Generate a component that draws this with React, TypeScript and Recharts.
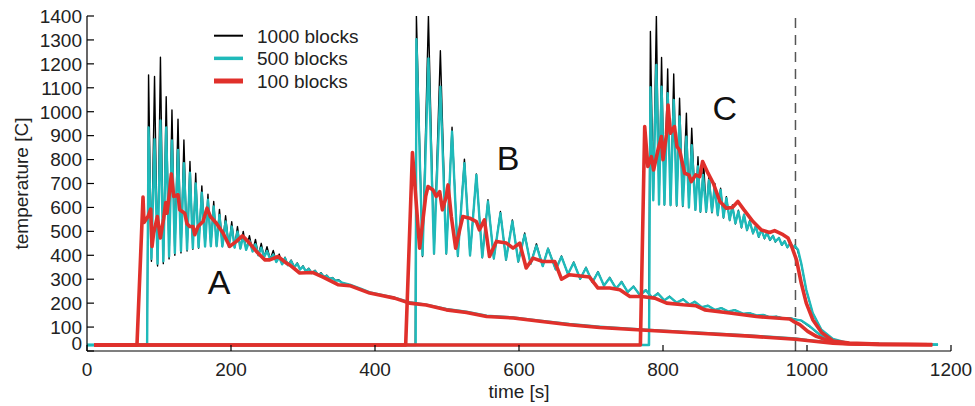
import { LineChart, Line, XAxis, YAxis, ReferenceLine, ReferenceDot, Legend } from 'recharts'

type Pt = [number, number]

const BLACK = '#000000'
const TEAL = '#1fbaba'
const RED = '#e0302b'
const TEXT = '#222222'
const FONT = '"Liberation Sans", Arial, sans-serif'

const xTicks = [0, 200, 400, 600, 800, 1000, 1200]
const yTicks = [0, 100, 200, 300, 400, 500, 600, 700, 800, 900, 1000, 1100, 1200, 1300, 1400]

// time [s], temperature [C] -- location A
const a1000: Pt[] = [
  [0, 25], [83.5, 25], [85.5, 1154], [89.5, 375], [93.8, 1147], [98, 355], [102, 1228], [106, 365],
  [110, 1063], [114, 385], [118, 1007], [122, 400], [126.4, 969], [130.5, 410], [134.6, 882], [139, 418],
  [143, 792], [147, 425], [151, 743], [155, 430], [159.5, 690], [164, 437], [168, 655], [172, 438],
  [176, 625], [180, 438], [184, 592], [188, 437], [192.5, 565], [197, 435], [201, 540], [205, 432],
  [209, 520], [213, 428], [217, 500], [221, 423], [225.6, 482], [230, 416], [234, 466], [238, 400],
  [242, 450], [246, 392], [250, 436], [254.5, 383], [258.7, 420], [263, 372], [267, 405], [271, 362],
  [275, 392], [279, 358], [283.5, 380], [288, 350], [292, 368], [296, 341], [300, 356], [304, 333],
  [308, 346], [312, 326], [316.8, 337], [321, 318], [325, 327], [329, 310], [333, 317], [337, 302],
  [341, 307], [345, 294], [349.5, 298], [354, 286], [365, 276], [380, 260], [393, 244], [411, 232],
  [427, 222], [448, 203], [471, 193], [499, 175], [527, 163], [555, 147], [592, 139], [629, 126],
  [670, 112], [712, 101], [770, 89], [850, 76], [920, 64], [984, 51], [1000, 45], [1013, 41],
  [1036, 34], [1059, 29], [1100, 27], [1180, 26],
]

const a500: Pt[] = [
  [0, 25], [83.5, 25], [85.5, 934], [89.5, 385], [93.8, 885], [98, 365], [102, 963], [106, 375],
  [110, 934], [114, 395], [118, 880], [122, 410], [126.4, 840], [130.5, 418], [134.6, 785], [139, 424],
  [143, 745], [147, 430], [151, 700], [155, 434], [159.5, 662], [164, 437], [168, 632], [172, 438],
  [176, 604], [180, 438], [184, 569], [188, 437], [192.5, 541], [197, 435], [201, 520], [205, 432],
  [209, 499], [213, 428], [217, 480], [221, 423], [225.6, 460], [230, 416], [234, 446], [238, 400],
  [242, 432], [246, 392], [250, 418], [254.5, 383], [258.7, 403], [263, 372], [267, 392], [271, 362],
  [275, 388], [279, 358], [283.5, 376], [288, 350], [292, 365], [296, 341], [300, 353], [304, 333],
  [308, 343], [312, 326], [316.8, 334], [321, 318], [325, 324], [329, 310], [333, 314], [337, 302],
  [341, 304], [345, 294], [349.5, 295], [354, 286], [365, 277], [380, 261], [393, 245], [411, 233],
  [427, 223], [448, 204], [471, 194], [499, 176], [527, 164], [555, 148], [592, 140], [629, 127],
  [670, 113], [712, 102], [770, 90], [850, 77], [920, 65], [984, 52], [1000, 46], [1013, 42],
  [1036, 35], [1059, 30], [1100, 27], [1182, 26],
]

const a100: Pt[] = [
  [10, 25], [69.4, 25], [77.8, 643], [79.2, 537], [84.7, 562], [88.5, 593], [90.3, 437], [92.6, 493],
  [97.7, 562], [101.9, 472], [106.5, 555], [109.3, 620], [111.1, 576], [113.9, 646], [117.2, 740],
  [120.4, 646], [126.4, 653], [128.8, 590], [135.7, 576], [138.9, 532], [142.6, 520], [147.2, 520],
  [149.6, 486], [154.2, 520], [161.1, 541], [166.7, 597], [171.4, 562], [179.7, 534], [188.9, 493],
  [198.2, 437], [207.5, 458], [215.8, 481], [223.6, 458], [235.3, 416], [246.8, 381], [253.8, 381],
  [265.3, 395], [276.9, 367], [281.5, 360], [295.4, 326], [313.9, 328], [327.8, 309], [348.6, 277],
  [364.9, 273], [392.6, 242], [411, 231], [427, 221], [448, 200], [471, 192], [499, 172], [527, 161],
  [555, 144], [592, 138], [629, 124], [670, 110], [712, 98], [770, 88], [850, 74], [920, 62],
  [984, 49], [1013, 40], [1036, 33], [1059, 29], [1100, 27], [1174, 26],
]

// location B
const b1000: Pt[] = [
  [0, 25], [456, 25], [457.5, 1400], [466, 395], [474.2, 1400], [482, 405], [490.8, 1255], [499, 405],
  [507, 935], [515, 395], [524.2, 802], [532, 398], [540.8, 740], [549, 390], [556.9, 632], [565, 385],
  [574.2, 583], [582, 380], [590.8, 548], [599, 372], [607.9, 493], [616, 362], [624.2, 448], [633, 354],
  [640.3, 430], [651, 340], [659, 397], [668, 320], [676, 372], [685, 300], [693, 350], [702, 286],
  [709.7, 332], [718, 272], [726, 308], [735, 260], [742.5, 291], [751, 245], [759, 271], [768, 232],
  [776, 256], [785, 222], [793, 242], [802, 211], [809, 229], [819, 201], [828, 217], [837, 193],
  [844, 207], [854, 182], [862.5, 190], [872, 171], [881, 180], [891, 164], [899.6, 172], [911, 155],
  [920, 159], [930, 148], [939, 152], [948, 141], [957.5, 144], [967, 136], [976, 138], [984, 133],
  [992, 127], [1004, 101], [1018, 66], [1036, 41], [1059, 30], [1100, 27], [1180, 26],
]

const b500: Pt[] = [
  [0, 25], [456.5, 25], [457.5, 1303], [466, 400], [474.2, 1223], [482, 408], [490.8, 1105], [499, 408],
  [507, 917], [515, 398], [524.2, 785], [532, 400], [540.8, 736], [549, 392], [556.9, 625], [565, 387],
  [574.2, 576], [582, 382], [590.8, 541], [599, 374], [607.9, 486], [616, 364], [624.2, 440], [633, 355],
  [640.3, 427], [651, 341], [659, 394], [668, 322], [676, 369], [685, 302], [693, 347], [702, 288],
  [709.7, 329], [718, 274], [726, 305], [735, 261], [742.5, 288], [751, 247], [759, 269], [768, 234],
  [776, 254], [785, 223], [793, 240], [802, 212], [809, 227], [819, 202], [828, 216], [837, 194],
  [844, 206], [854, 183], [862.5, 189], [872, 172], [881, 179], [891, 165], [899.6, 171], [911, 156],
  [920, 158], [930, 149], [939, 151], [948, 142], [957.5, 143], [967, 136], [976, 137], [984, 131],
  [992, 128], [1004, 103], [1018, 68], [1036, 42], [1059, 31], [1100, 27], [1182, 26],
]

const b100: Pt[] = [
  [10, 25], [442.6, 25], [452, 829], [462, 430], [470.4, 646], [473.6, 687], [480.6, 673], [485, 646],
  [489.9, 666], [493.6, 590], [499, 646], [501.4, 694], [506, 562], [512, 430], [517.6, 506], [522, 562],
  [531.5, 555], [540.8, 541], [545, 506], [552, 548], [559, 395], [568.6, 458], [582.5, 451], [591.7, 430],
  [601, 451], [610, 347], [619.4, 388], [633, 374], [649.6, 374], [659, 300], [670, 319], [698, 309],
  [709.7, 263], [726, 263], [740, 256], [754, 228], [770, 228], [788.5, 221], [805, 200], [828, 193],
  [846, 189], [858, 172], [892.6, 159], [929.7, 144], [976, 134], [981, 124], [990, 110], [1001, 82],
  [1013, 61], [1036, 36], [1059, 30], [1100, 27], [1174, 26],
]

// location C
const c1000: Pt[] = [
  [0, 25], [780, 25], [782.5, 1335], [786.5, 640], [790.8, 1400], [794.5, 615], [798, 1227], [802, 610],
  [806.5, 1179], [810.5, 608], [814.9, 1158], [819, 606], [823, 1056], [827.5, 604], [832.5, 994], [836, 600],
  [839.9, 931], [845, 588], [848.6, 812], [852, 580], [856.5, 786], [860, 580], [864, 740], [868, 578],
  [872, 700], [876, 566], [880, 680], [884, 556], [888, 645], [892.6, 545], [896.4, 610], [900.6, 531],
  [904.7, 588], [909, 515], [912.5, 572], [916.7, 503], [920.4, 545], [925, 490], [928.8, 523], [933, 475],
  [936.7, 508], [941, 469], [944.4, 495], [948.6, 462], [952.8, 483], [956, 455], [961, 474], [965, 442],
  [969, 460], [972.8, 432], [977, 453], [980.6, 428], [983, 442], [987, 420], [992, 365], [999, 254],
  [1008, 157], [1020, 88], [1036, 49], [1059, 31], [1105, 28], [1180, 26],
]

const c500: Pt[] = [
  [0, 25], [780.6, 25], [782.5, 1102], [786.5, 630], [790.8, 1195], [794.5, 612], [798, 1105], [802, 612],
  [806.5, 1077], [810.5, 610], [814.9, 1049], [819, 610], [823, 980], [827.5, 608], [832.5, 896], [836, 600],
  [839.9, 860], [845, 590], [848.6, 771], [852, 583], [855.6, 736], [860, 583], [863.9, 715], [868, 583],
  [871.8, 687], [876, 569], [880, 673], [884, 559], [888, 639], [892.6, 548], [896.4, 604], [900.6, 534],
  [904.7, 583], [909, 518], [912.5, 569], [916.7, 506], [920.4, 541], [925, 493], [928.8, 520], [933, 478],
  [936.7, 506], [941, 472], [944.4, 493], [948.6, 465], [952.8, 481], [956, 458], [961, 472], [965, 444],
  [969, 458], [972.8, 434], [977, 451], [980.6, 430], [983, 440], [987.5, 423], [992, 367], [999, 256],
  [1008, 159], [1020, 89], [1036, 50], [1059, 32], [1105, 29], [1182, 26],
]

const c100: Pt[] = [
  [10, 25], [768.6, 25], [774.6, 938], [779, 771], [783.9, 812], [787, 757], [793, 840], [797.8, 896],
  [800, 799], [804.7, 903], [807, 1028], [810.3, 910], [816, 938], [819.4, 854], [823, 840], [830, 743],
  [836, 736], [839.4, 708], [845.4, 736], [851, 729], [855, 792], [862.5, 743], [870, 700], [879, 625],
  [888, 597], [896.4, 600], [904, 625], [912, 592], [925, 541], [936.7, 506], [948, 495], [955, 503],
  [966.7, 486], [973.6, 472], [978.3, 440], [985.4, 381], [992, 284], [999, 200], [1008, 131], [1020, 78],
  [1036, 42], [1059, 33], [1100, 29], [1174, 27],
]

const processEnd = 984

const markers = [
  { id: 'A', t: 183.6, temp: 289 },
  { id: 'B', t: 584.7, temp: 806 },
  { id: 'C', t: 885.7, temp: 1016 },
]

const legendItems = [
  { label: '1000 blocks', color: BLACK, width: 2 },
  { label: '500 blocks', color: TEAL, width: 3.5 },
  { label: '100 blocks', color: RED, width: 5 },
]

const toRows = (pts: Pt[]) => pts.map(([t, v]) => ({ t, v }))

// drawing order: black under teal under red
const series = [
  { key: 'a1000', pts: a1000, color: BLACK, width: 1.4 },
  { key: 'b1000', pts: b1000, color: BLACK, width: 1.4 },
  { key: 'c1000', pts: c1000, color: BLACK, width: 1.4 },
  { key: 'a500', pts: a500, color: TEAL, width: 2.4 },
  { key: 'b500', pts: b500, color: TEAL, width: 2.4 },
  { key: 'c500', pts: c500, color: TEAL, width: 2.4 },
  { key: 'a100', pts: a100, color: RED, width: 3.6 },
  { key: 'b100', pts: b100, color: RED, width: 3.6 },
  { key: 'c100', pts: c100, color: RED, width: 3.6 },
]

function YTick({ x, y, payload }: any) {
  // the 0 label sits a little above its tick, clear of the x axis
  const lift = payload.value === 0 ? -8 : 0
  return (
    <text x={x} y={y + lift} dy="0.36em" textAnchor="end" fontSize={19} fill={TEXT} fontFamily={FONT}>
      {payload.value}
    </text>
  )
}

function LegendBox() {
  return (
    <svg width={170} height={70}>
      {legendItems.map((it, i) => (
        <g key={it.label} transform={`translate(0, ${11.7 + i * 22.65})`}>
          <line x1={9} x2={38} y1={0} y2={0} stroke={it.color} strokeWidth={it.width} />
          <text x={52} y={0} dy="0.36em" fontSize={19} fill={TEXT} fontFamily={FONT}>
            {it.label}
          </text>
        </g>
      ))}
    </svg>
  )
}

export default function App() {
  return (
    <div style={{ position: 'absolute', left: 0, top: 0, width: 975, height: 406, fontFamily: FONT, background: '#fff' }}>
      <LineChart width={975} height={406} margin={{ top: 16, right: 24, bottom: 0, left: 0 }}>
        <XAxis
          dataKey="t"
          type="number"
          domain={[0, 1200]}
          ticks={xTicks}
          interval={0}
          height={55}
          tickSize={-6}
          tickMargin={18}
          axisLine={{ stroke: BLACK, strokeWidth: 1.2 }}
          tickLine={{ stroke: BLACK, strokeWidth: 1.2 }}
          tick={{ fontSize: 19, fill: TEXT, fontFamily: FONT }}
          label={{ value: 'time [s]', position: 'insideBottom', offset: 8, fontSize: 19, fill: TEXT }}
        />
        <YAxis
          dataKey="v"
          type="number"
          domain={[0, 1400]}
          ticks={yTicks}
          interval={0}
          width={87}
          tickSize={-7}
          tickMargin={12}
          allowDataOverflow
          axisLine={{ stroke: BLACK, strokeWidth: 1.2 }}
          tickLine={{ stroke: BLACK, strokeWidth: 1.2 }}
          tick={<YTick />}
          label={{
            value: 'temperature [C]',
            angle: -90,
            position: 'insideLeft',
            offset: 21,
            fontSize: 19,
            fill: TEXT,
            style: { textAnchor: 'middle' },
          }}
        />
        <ReferenceLine x={processEnd} stroke="#555" strokeWidth={1.5} strokeDasharray="10 7" />
        {series.map((s) => (
          <Line
            key={s.key}
            data={toRows(s.pts)}
            dataKey="v"
            type="linear"
            stroke={s.color}
            strokeWidth={s.width}
            strokeLinejoin="round"
            dot={false}
            activeDot={false}
            legendType="none"
            isAnimationActive={false}
          />
        ))}
        {markers.map((m) => (
          <ReferenceDot
            key={m.id}
            x={m.t}
            y={m.temp}
            r={0}
            fill="none"
            stroke="none"
            label={{ value: m.id, position: 'center', fontSize: 34, fill: '#111' }}
          />
        ))}
        <Legend
          layout="vertical"
          align="center"
          verticalAlign="middle"
          wrapperStyle={{ left: 205, top: 24, width: 170, height: 70 }}
          content={() => <LegendBox />}
        />
      </LineChart>
    </div>
  )
}
